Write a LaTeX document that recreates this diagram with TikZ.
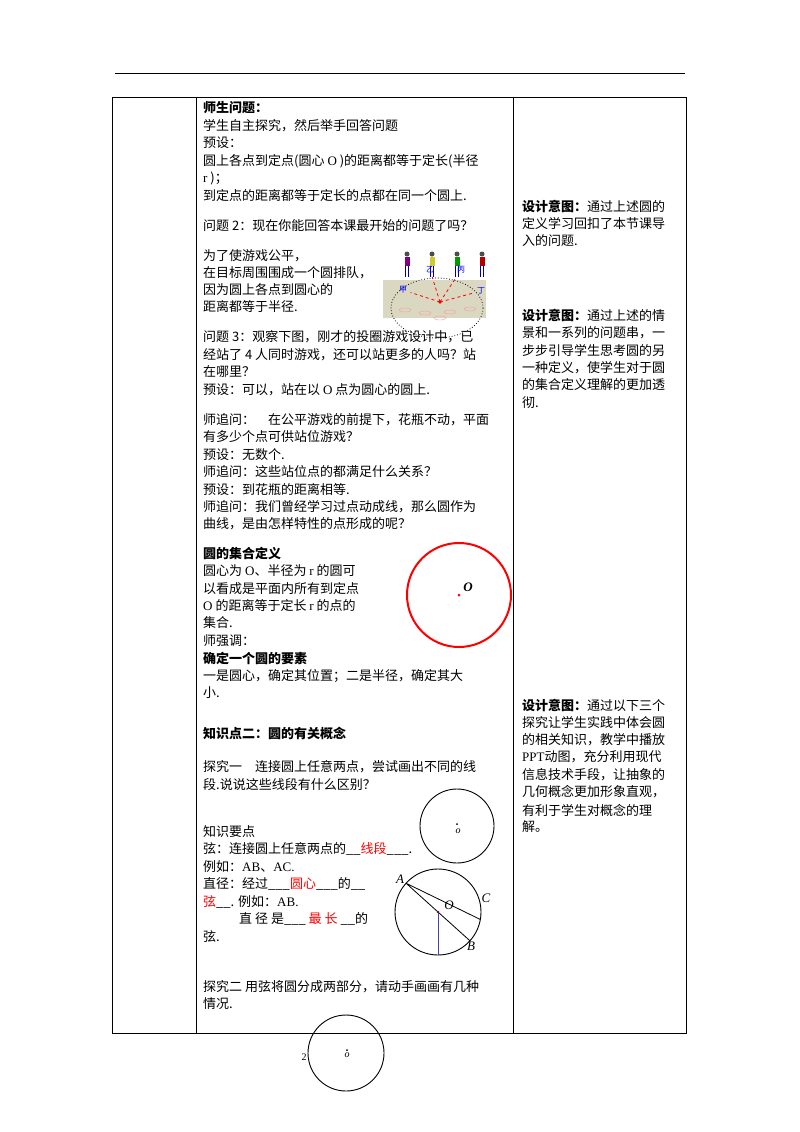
\documentclass[tikz,border=0pt]{standalone}
\usepackage{fontspec}
\usetikzlibrary{calc}
\setmainfont{Noto Sans CJK SC}
\newfontfamily\lat{Liberation Serif}
\begin{document}
\begin{tikzpicture}[x=1pt,y=-1pt,
  tl/.style={anchor=west,inner sep=0pt,font=\fontsize{13}{14}\selectfont},
  rl/.style={tl},
  circ/.style={draw,line width=0.9pt}]
\useasboundingbox (0,0) rectangle (800,1132);
\fill[white] (0,0) rectangle (800,1132);
\draw[line width=0.6pt] (115,73) -- (685,73);
\draw[line width=0.8pt] (112,97) rectangle (686,1033);
\draw[line width=0.8pt] (196,97) -- (196,1033) (513,97) -- (513,1033);
% picture
\fill[yellow!25!gray!45] (383,280) -- (486,280) -- (486,318) -- (383,318) -- cycle;
\draw[dotted,thick] (437,308) ellipse (46 and 30);
\foreach \px/\c in {407/violet,432/yellow!80!black,457/green!60!black,482/red!70!black}{
  \fill[black!70] (\px,254) circle (2.5);
  \fill[\c] (\px-2.5,257) rectangle (\px+2.5,266);
  \draw[blue!60!black,line width=1pt] (\px-1.5,266) -- (\px-1.5,277) (\px+1.5,266) -- (\px+1.5,277);}
\coordinate (ctr) at (440,302);
\node[text=blue,font=\fontsize{8}{8}\selectfont] (jia) at (403,290) {甲};
\node[text=blue,font=\fontsize{8}{8}\selectfont] (yi) at (430,270) {乙};
\node[text=blue,font=\fontsize{8}{8}\selectfont] (bing) at (461,270) {丙};
\node[text=blue,font=\fontsize{8}{8}\selectfont] (ding) at (481,291) {丁};
\foreach \n in {jia,yi,bing,ding} \draw[red,dashed,thick] (ctr) -- (\n);
\fill[red] (ctr) circle (1.8);
\foreach \ex/\ey in {405/310,425/313,450/312,470/309,440/318}{\draw[red!40] (\ex,\ey) ellipse (6 and 2);}
% left column texts
\node[tl] (t1) at (203,108) {\bfseries 师生问题：};
\node[tl] at (203,126) {学生自主探究，然后举手回答问题};
\node[tl] at (203,143) {预设：};
\node[tl] at (203,161) {圆上各点到定点(圆心 {\lat O} )的距离都等于定长(半径};
\node[tl] at (203,178) {{\lat r} )；};
\node[tl] at (203,196) {到定点的距离都等于定长的点都在同一个圆上.};
\node[tl] at (203,226) {问题 2：现在你能回答本课最开始的问题了吗？};
\node[tl] at (203,256) {为了使游戏公平，};
\node[tl] at (203,273) {在目标周围围成一个圆排队，};
\node[tl] at (203,290) {因为圆上各点到圆心的};
\node[tl] at (203,307) {距离都等于半径.};
\node[tl] at (203,337) {问题 3：观察下图，刚才的投圈游戏设计中，已};
\node[tl] at (203,355) {经站了 4 人同时游戏，还可以站更多的人吗？站};
\node[tl] at (203,372) {在哪里？};
\node[tl] at (203,390) {预设：可以，站在以 {\lat O} 点为圆心的圆上.};
\node[tl] at (203,420) {师追问：\quad 在公平游戏的前提下，花瓶不动，平面};
\node[tl] at (203,437) {有多少个点可供站位游戏？};
\node[tl] at (203,455) {预设：无数个.};
\node[tl] at (203,472) {师追问：这些站位点的都满足什么关系？};
\node[tl] at (203,490) {预设：到花瓶的距离相等.};
\node[tl] at (203,507) {师追问：我们曾经学习过点动成线，那么圆作为};
\node[tl] at (203,524) {曲线，是由怎样特性的点形成的呢？};
\node[tl] at (203,554) {\bfseries 圆的集合定义};
\node[tl] at (203,571) {圆心为 {\lat O}、半径为 {\lat r} 的圆可};
\node[tl] at (203,589) {以看成是平面内所有到定点};
\node[tl] at (203,606) {{\lat O} 的距离等于定长 {\lat r} 的点的};
\node[tl] at (203,623) {集合.};
\node[tl] at (203,641) {师强调：};
\node[tl] at (203,658) {\bfseries 确定一个圆的要素};
\node[tl] at (203,676) {一是圆心，确定其位置；二是半径，确定其大};
\node[tl] at (203,693) {小.};
\node[tl] at (203,733) {\bfseries 知识点二：圆的有关概念};
\node[tl] at (203,767) {探究一\quad 连接圆上任意两点，尝试画出不同的线};
\node[tl] at (203,785) {段.说说这些线段有什么区别？};
\node[tl] at (203,832) {知识要点};
\node[tl] at (203,849) {弦：连接圆上任意两点的\_\_\textcolor{red}{线段}\_\_\_.};
\node[tl] at (203,867) {例如：{\lat AB}、{\lat AC.}};
\node[tl] at (203,884) {直径：经过\_\_\_\textcolor{red}{圆心}\_\_\_的\_\_};
\node[tl] at (203,902) {\textcolor{red}{弦}\_\_. 例如：{\lat AB.}};
\node[tl] at (239,919) {直 径 是\_\_\_ \textcolor{red}{最 长} \_\_的};
\node[tl] at (203,937) {弦.};
\node[tl] at (203,987) {探究二 用弦将圆分成两部分，请动手画画有几种};
\node[tl] at (203,1004) {情况.};
% right column
\foreach \yy/\s in {206/{\bfseries 设计意图：}通过上述圆的,224/定义学习回扣了本节课导,241/入的问题.,
 315/{\bfseries 设计意图：}通过上述的情,333/景和一系列的问题串，一,350/步步引导学生思考圆的另,368/一种定义，使学生对于圆,385/的集合定义理解的更加透,403/彻.,
 705/{\bfseries 设计意图：}通过以下三个,722/探究让学生实践中体会圆,740/的相关知识，教学中播放,757/{\lat PPT}动图，充分利用现代,775/信息技术手段，让抽象的,792/几何概念更加形象直观，,810/有利于学生对概念的理,827/解。}
  \node[rl] at (522,\yy) {\s};
% red circle
\node[circle,draw=red,line width=2pt,minimum size=104pt] (rc) at (459,595) {};
\fill[red] (rc.center) circle (1.5);
\node[font=\lat\bfseries\itshape\fontsize{13}{13}\selectfont] at (468,587) {O};
% circle 1
\node[circle,circ,minimum size=74pt] (c1) at (457,826) {};
\fill (457,824) circle (1);
\node[font=\lat\itshape\fontsize{10}{10}\selectfont] at (458,831) {o};
% circle 2
\node[circle,circ,minimum size=86pt,inner sep=0pt] (c2) at (438,912) {};
\coordinate (A) at ($(c2.center)+(-138:43)$);
\coordinate (B) at ($(c2.center)+(42:43)$);
\coordinate (C) at ($(c2.center)+(10:43)$);
\coordinate (D) at ($(c2.center)+(90:43)$);
\draw[line width=0.8pt] (A) -- (B) (A) -- (C);
\draw[blue!50!gray,line width=1pt] (c2.center) -- (D);
\fill[red!60!black] (c2.center) circle (1.3);
\node[font=\lat\itshape\fontsize{13}{13}\selectfont] at (400,879) {A};
\node[font=\lat\itshape\fontsize{13}{13}\selectfont] at (486,898) {C};
\node[font=\lat\itshape\fontsize{13}{13}\selectfont] at (449,905) {O};
\node[font=\lat\itshape\fontsize{13}{13}\selectfont] at (471,946) {B};
% circle 3
\node[circle,circ,minimum size=76pt] (c3) at (346,1053) {};
\fill (347,1050) circle (1);
\node[font=\lat\itshape\fontsize{10}{10}\selectfont] at (347,1055) {o};
\node[font=\lat\fontsize{10}{10}\selectfont] at (304,1057) {2};
\end{tikzpicture}
\end{document}
